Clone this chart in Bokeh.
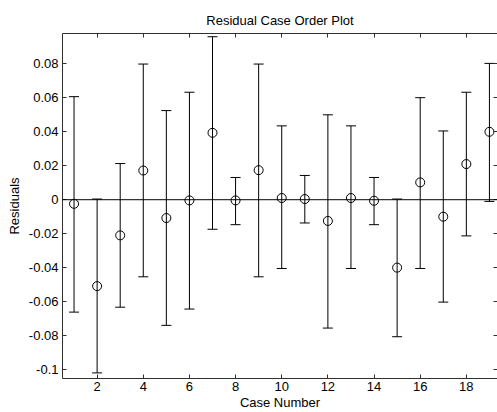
from bokeh.plotting import figure
from bokeh.models import Range1d, LinearAxis, FixedTicker, Span, ColumnDataSource
from bokeh.embed import file_html
from bokeh.resources import INLINE

cases = list(range(1, 20))
residuals = [-0.0024, -0.0509, -0.0210, 0.0172, -0.0108, -0.0004, 0.0394, -0.0004, 0.0174, 0.0010,
             0.0004, -0.0125, 0.0010, -0.0006, -0.0400, 0.0102, -0.0100, 0.0210, 0.0400]
lower = [-0.0662, -0.1020, -0.0633, -0.0454, -0.0740, -0.0644, -0.0174, -0.0147, -0.0454, -0.0405,
         -0.0137, -0.0756, -0.0405, -0.0147, -0.0807, -0.0405, -0.0603, -0.0213, -0.0010]
upper = [0.0607, 0.0004, 0.0213, 0.0799, 0.0525, 0.0633, 0.0960, 0.0131, 0.0799, 0.0435,
         0.0143, 0.0500, 0.0435, 0.0131, 0.0004, 0.0601, 0.0405, 0.0633, 0.0803]

x_ticks = [2, 4, 6, 8, 10, 12, 14, 16, 18]
y_ticks = [-0.1, -0.08, -0.06, -0.04, -0.02, 0, 0.02, 0.04, 0.06, 0.08]
y_tick_labels = ["-0.1", "-0.08", "-0.06", "-0.04", "-0.02", "0", "0.02", "0.04", "0.06", "0.08"]

FONT = "Liberation Sans"
FS = "13px"
AX = "#303030"

src = ColumnDataSource(dict(x=cases, r=residuals, lo=lower, hi=upper))

p = figure(width=497, height=412, output_backend="svg", toolbar_location=None,
           x_range=Range1d(0.5, 19.35), y_range=Range1d(-0.1053, 0.0979),
           min_border_left=62, min_border_right=0, min_border_top=33, min_border_bottom=33)
p.outline_line_color = None
p.background_fill_color = "white"
p.border_fill_color = "white"
p.xgrid.visible = False
p.ygrid.visible = False

p.title.text = "Residual Case Order Plot"
p.title.text_font = FONT
p.title.text_font_size = FS
p.title.text_font_style = "normal"
p.title.align = "center"
p.title.vertical_align = "middle"
p.title.text_color = "black"
p.title.standoff = 9

xa = p.xaxis[0]
xa.ticker = FixedTicker(ticks=x_ticks)
xa.axis_label = "Case Number"
ya = p.yaxis[0]
ya.ticker = FixedTicker(ticks=y_ticks)
ya.major_label_overrides = {t: l for t, l in zip(y_ticks, y_tick_labels)}
ya.axis_label = "Residuals"
for ax in (xa, ya):
    ax.axis_line_color = AX
    ax.major_tick_line_color = AX
    ax.major_tick_in = 4
    ax.major_tick_out = 0
    ax.minor_tick_line_color = None
    ax.major_label_text_font = FONT
    ax.major_label_text_font_size = FS
    ax.major_label_text_color = "black"
    ax.axis_label_text_font = FONT
    ax.axis_label_text_font_size = FS
    ax.axis_label_text_font_style = "normal"
    ax.axis_label_text_color = "black"
    ax.major_label_standoff = 4
ya.axis_label_standoff = 4
xa.major_label_standoff = 3
xa.axis_label_standoff = 1

top = LinearAxis(ticker=FixedTicker(ticks=x_ticks), major_label_text_font_size="1px",
                 major_label_text_color=None, major_label_standoff=0,
                 major_tick_in=4, major_tick_out=0,
                 minor_tick_line_color=None, axis_line_color=AX, major_tick_line_color=AX)
p.add_layout(top, "above")
right = LinearAxis(ticker=FixedTicker(ticks=y_ticks), major_label_text_font_size="1px",
                   major_label_text_color=None, major_label_standoff=0,
                   major_tick_in=4, major_tick_out=0,
                   minor_tick_line_color=None, axis_line_color=None, major_tick_line_color=AX)
p.add_layout(right, "right")

p.add_layout(Span(location=0, dimension="width", line_color="black", line_width=1))

p.segment(x0="x", y0="lo", x1="x", y1="hi", source=src, line_color="black", line_width=1)
p.scatter(x="x", y="lo", source=src, marker="dash", size=10, line_color="black", line_width=1)
p.scatter(x="x", y="hi", source=src, marker="dash", size=10, line_color="black", line_width=1)
p.scatter(x="x", y="r", source=src, marker="circle", size=9, fill_color=None,
          line_color="black", line_width=1)

open("out.html", "w").write(file_html(p, INLINE))
